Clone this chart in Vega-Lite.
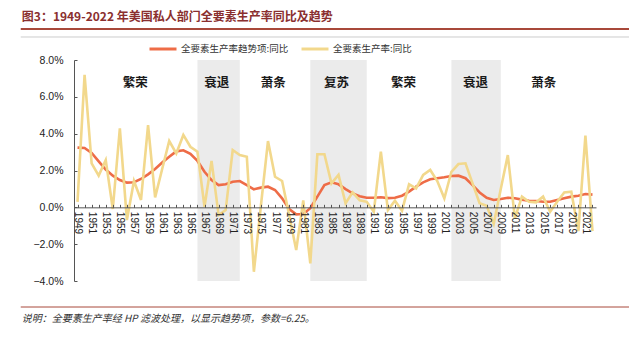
{
  "$schema": "https://vega.github.io/schema/vega-lite/v6.json",
  "autosize": {"type": "none"},
  "padding": {"left": 74, "top": 60, "right": 33, "bottom": 58},
  "width": 522,
  "height": 221,
  "background": "white",
  "config": {
    "font": "Liberation Sans",
    "view": {"stroke": null},
    "axis": {"labelOverlap": false, "labelBound": false, "labelFlush": false}
  },
  "datasets": {
    "tfp": [
      {"year": 1949, "tfp": 0.30, "trend": 3.24},
      {"year": 1950, "tfp": 7.19, "trend": 3.22},
      {"year": 1951, "tfp": 2.39, "trend": 2.95},
      {"year": 1952, "tfp": 1.72, "trend": 2.50},
      {"year": 1953, "tfp": 2.57, "trend": 2.05},
      {"year": 1954, "tfp": -0.09, "trend": 1.72},
      {"year": 1955, "tfp": 4.29, "trend": 1.48},
      {"year": 1956, "tfp": -0.69, "trend": 1.34},
      {"year": 1957, "tfp": 1.43, "trend": 1.36},
      {"year": 1958, "tfp": 0.40, "trend": 1.54},
      {"year": 1959, "tfp": 4.47, "trend": 1.79},
      {"year": 1960, "tfp": 0.54, "trend": 2.08},
      {"year": 1961, "tfp": 2.08, "trend": 2.43},
      {"year": 1962, "tfp": 3.60, "trend": 2.75},
      {"year": 1963, "tfp": 2.93, "trend": 3.04},
      {"year": 1964, "tfp": 3.93, "trend": 3.10},
      {"year": 1965, "tfp": 3.29, "trend": 2.90},
      {"year": 1966, "tfp": 3.02, "trend": 2.52},
      {"year": 1967, "tfp": 0.03, "trend": 1.93},
      {"year": 1968, "tfp": 2.52, "trend": 1.48},
      {"year": 1969, "tfp": -0.42, "trend": 1.21},
      {"year": 1970, "tfp": -0.15, "trend": 1.25},
      {"year": 1971, "tfp": 3.11, "trend": 1.39},
      {"year": 1972, "tfp": 2.84, "trend": 1.43},
      {"year": 1973, "tfp": 2.75, "trend": 1.21},
      {"year": 1974, "tfp": -3.50, "trend": 0.98},
      {"year": 1975, "tfp": 0.10, "trend": 1.07},
      {"year": 1976, "tfp": 3.60, "trend": 1.12},
      {"year": 1977, "tfp": 1.66, "trend": 0.94},
      {"year": 1978, "tfp": 1.43, "trend": 0.49},
      {"year": 1979, "tfp": -0.42, "trend": -0.09},
      {"year": 1980, "tfp": -2.32, "trend": -0.38},
      {"year": 1981, "tfp": 0.38, "trend": -0.36},
      {"year": 1982, "tfp": -3.04, "trend": -0.05},
      {"year": 1983, "tfp": 2.88, "trend": 0.58},
      {"year": 1984, "tfp": 2.88, "trend": 1.21},
      {"year": 1985, "tfp": 1.30, "trend": 1.36},
      {"year": 1986, "tfp": 1.76, "trend": 1.25},
      {"year": 1987, "tfp": 0.22, "trend": 0.99},
      {"year": 1988, "tfp": 0.81, "trend": 0.76},
      {"year": 1989, "tfp": 0.38, "trend": 0.60},
      {"year": 1990, "tfp": 0.30, "trend": 0.52},
      {"year": 1991, "tfp": -0.24, "trend": 0.52},
      {"year": 1992, "tfp": 3.02, "trend": 0.55},
      {"year": 1993, "tfp": -0.15, "trend": 0.50},
      {"year": 1994, "tfp": 0.36, "trend": 0.52},
      {"year": 1995, "tfp": -0.18, "trend": 0.63},
      {"year": 1996, "tfp": 1.25, "trend": 0.85},
      {"year": 1997, "tfp": 1.03, "trend": 1.12},
      {"year": 1998, "tfp": 1.76, "trend": 1.36},
      {"year": 1999, "tfp": 2.03, "trend": 1.52},
      {"year": 2000, "tfp": 1.43, "trend": 1.58},
      {"year": 2001, "tfp": 0.49, "trend": 1.63},
      {"year": 2002, "tfp": 1.93, "trend": 1.70},
      {"year": 2003, "tfp": 2.35, "trend": 1.72},
      {"year": 2004, "tfp": 2.39, "trend": 1.58},
      {"year": 2005, "tfp": 1.30, "trend": 1.21},
      {"year": 2006, "tfp": 0.22, "trend": 0.81},
      {"year": 2007, "tfp": 0.09, "trend": 0.52},
      {"year": 2008, "tfp": -0.90, "trend": 0.40},
      {"year": 2009, "tfp": 1.00, "trend": 0.45},
      {"year": 2010, "tfp": 2.84, "trend": 0.52},
      {"year": 2011, "tfp": -0.60, "trend": 0.49},
      {"year": 2012, "tfp": 0.58, "trend": 0.42},
      {"year": 2013, "tfp": 0.30, "trend": 0.36},
      {"year": 2014, "tfp": 0.27, "trend": 0.34},
      {"year": 2015, "tfp": 0.58, "trend": 0.30},
      {"year": 2016, "tfp": -0.24, "trend": 0.30},
      {"year": 2017, "tfp": 0.30, "trend": 0.40},
      {"year": 2018, "tfp": 0.81, "trend": 0.49},
      {"year": 2019, "tfp": 0.85, "trend": 0.58},
      {"year": 2020, "tfp": -1.29, "trend": 0.63},
      {"year": 2021, "tfp": 3.89, "trend": 0.72},
      {"year": 2022, "tfp": -1.29, "trend": 0.69}
    ],
    "phases": [
      {"start": 1966, "end": 1972},
      {"start": 1982, "end": 1990},
      {"start": 2002, "end": 2009}
    ],
    "labels": [
      {"label": "繁荣", "year": 1957.2, "value": 6.75},
      {"label": "衰退", "year": 1968.75, "value": 6.75},
      {"label": "萧条", "year": 1976.75, "value": 6.75},
      {"label": "复苏", "year": 1985.7, "value": 6.75},
      {"label": "繁荣", "year": 1995.2, "value": 6.75},
      {"label": "衰退", "year": 2005.4, "value": 6.75},
      {"label": "萧条", "year": 2015.1, "value": 6.75}
    ]
  },
  "layer": [
    {
      "data": {"name": "phases"},
      "mark": {"type": "rect", "color": "#EBEBEB"},
      "encoding": {
        "x": {
          "field": "start",
          "type": "quantitative",
          "scale": {"domain": [1948.5, 2022.5], "nice": false, "zero": false},
          "axis": {
            "title": null,
            "values": [1949,1950,1951,1952,1953,1954,1955,1956,1957,1958,1959,1960,1961,1962,1963,1964,1965,1966,1967,1968,1969,1970,1971,1972,1973,1974,1975,1976,1977,1978,1979,1980,1981,1982,1983,1984,1985,1986,1987,1988,1989,1990,1991,1992,1993,1994,1995,1996,1997,1998,1999,2000,2001,2002,2003,2004,2005,2006,2007,2008,2009,2010,2011,2012,2013,2014,2015,2016,2017,2018,2019,2020,2021,2022],
            "tickCount": 200,
            "labelExpr": "datum.value % 2 == 1 ? format(datum.value, 'd') : ''",
            "labelOverlap": false,
            "labelAngle": 90,
            "labelAlign": "left",
            "labelBaseline": "middle",
            "labelFontSize": 10,
            "labelColor": "#222222",
            "labelPadding": 7,
            "tickSize": -3,
            "tickColor": "#555555",
            "domainColor": "#555555",
            "grid": false,
            "offset": -73.67,
            "zindex": 1
          }
        },
        "x2": {"field": "end"}
      }
    },
    {
      "data": {"name": "labels"},
      "mark": {"type": "text", "font": "Noto Sans CJK SC", "fontSize": 12.5, "fontWeight": "bold", "color": "#1A1A1A"},
      "encoding": {
        "x": {"field": "year", "type": "quantitative"},
        "y": {"field": "value", "type": "quantitative"},
        "text": {"field": "label"}
      }
    },
    {
      "data": {"name": "tfp"},
      "mark": {"type": "line", "strokeWidth": 2.6},
      "encoding": {
        "x": {"field": "year", "type": "quantitative"},
        "y": {
          "field": "trend",
          "type": "quantitative",
          "scale": {"domain": [-4, 8], "nice": false, "zero": false},
          "axis": {
            "title": null,
            "values": [-4, -2, 0, 2, 4, 6, 8],
            "tickCount": 50,
            "labelExpr": "format(datum.value, '.1f') + '%'",
            "labelOverlap": false,
            "labelFontSize": 10.5,
            "labelColor": "#222222",
            "labelPadding": 14,
            "tickSize": -3,
            "tickColor": "#555555",
            "domainColor": "#555555",
            "grid": false
          }
        },
        "color": {
          "datum": "全要素生产率趋势项:同比",
          "scale": {"domain": ["全要素生产率趋势项:同比", "全要素生产率:同比"], "range": ["#EE6C47", "#F2D88C"]},
          "legend": {
            "title": null,
            "orient": "none",
            "legendX": 74,
            "legendY": -26,
            "direction": "horizontal",
            "symbolType": "stroke",
            "symbolSize": 729,
            "symbolStrokeWidth": 3,
            "labelFont": "Noto Sans CJK SC",
            "labelFontSize": 9.5,
            "labelColor": "#333333",
            "labelOffset": 3,
            "labelLimit": 300,
            "columnPadding": 6
          }
        }
      }
    },
    {
      "data": {"name": "tfp"},
      "mark": {"type": "line", "strokeWidth": 2.6},
      "encoding": {
        "x": {"field": "year", "type": "quantitative"},
        "y": {"field": "tfp", "type": "quantitative"},
        "color": {"datum": "全要素生产率:同比"}
      }
    },
    {
      "data": {"values": [{"heading": "图3：1949-2022 年美国私人部门全要素生产率同比及趋势", "note": "说明：全要素生产率经 HP 滤波处理，以显示趋势项，参数=6.25。"}]},
      "layer": [
        {
          "mark": {"type": "text", "align": "left", "baseline": "middle", "font": "Noto Sans CJK SC", "fontSize": 12, "fontWeight": "bold", "color": "#8A2F2F"},
          "encoding": {
            "x": {"datum": 1941.1, "type": "quantitative"},
            "y": {"datum": 10.335, "type": "quantitative"},
            "text": {"field": "heading"}
          }
        },
        {
          "mark": {"type": "text", "align": "left", "baseline": "middle", "font": "Noto Sans CJK SC", "fontSize": 10, "fontStyle": "italic", "color": "#333333"},
          "encoding": {
            "x": {"datum": 1941.1, "type": "quantitative"},
            "y": {"datum": -6.06, "type": "quantitative"},
            "text": {"field": "note"}
          }
        },
        {
          "mark": {"type": "rule", "color": "#A8483A", "strokeWidth": 1, "clip": false},
          "encoding": {
            "x": {"datum": 1940.95, "type": "quantitative"},
            "x2": {"datum": 2028},
            "y": {"datum": -5.412, "type": "quantitative"}
          }
        },
        {
          "mark": {"type": "rule", "color": "#A8483A", "strokeWidth": 1.8, "clip": false},
          "encoding": {
            "x": {"datum": 1940.95, "type": "quantitative"},
            "x2": {"datum": 2028},
            "y": {"datum": 9.683, "type": "quantitative"}
          }
        },
        {
          "mark": {"type": "rule", "color": "#CCCCCC", "strokeWidth": 1, "clip": false},
          "encoding": {
            "x": {"datum": 1940.95, "type": "quantitative"},
            "x2": {"datum": 2028},
            "y": {"datum": 9.249, "type": "quantitative"}
          }
        }
      ]
    }
  ]
}
